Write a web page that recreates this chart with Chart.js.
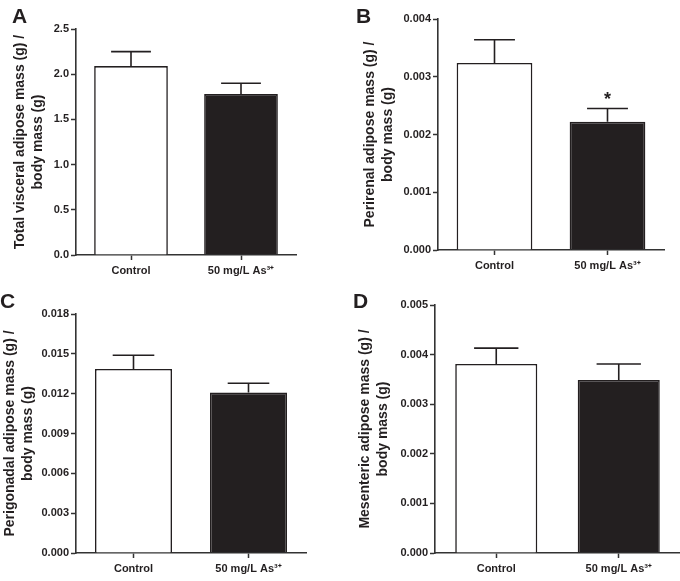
<!DOCTYPE html>
<html>
<head>
<meta charset="utf-8">
<script src="https://cdn.jsdelivr.net/npm/chart.js@4"></script>
<style>
  html, body { margin: 0; padding: 0; background: #fff; }
  #page { position: relative; width: 680px; height: 581px; overflow: hidden; }
  .panel { position: absolute; }
  .letter {
    position: absolute;
    font: bold 21px "Liberation Sans", Arial, sans-serif;
    color: #231f20;
    line-height: 1;
  }
</style>
</head>
<body>
<div id="page">
  <div class="panel" style="left:0;top:0"><canvas id="chartA" width="340" height="290"></canvas></div>
  <div class="panel" style="left:340px;top:0"><canvas id="chartB" width="340" height="290"></canvas></div>
  <div class="panel" style="left:0;top:290px"><canvas id="chartC" width="340" height="291"></canvas></div>
  <div class="panel" style="left:340px;top:290px"><canvas id="chartD" width="340" height="291"></canvas></div>
  <div class="letter" style="left:12px;top:5px">A</div>
  <div class="letter" style="left:356px;top:5px">B</div>
  <div class="letter" style="left:0;top:290px">C</div>
  <div class="letter" style="left:353px;top:290px">D</div>
</div>
<script>
(function () {
  "use strict";

  const categories = ["Control", "50 mg/L As³⁺"];

  const visceralMeans = [2.09, 1.78];
  const visceralErrors = [0.16, 0.12];

  const perirenalMeans = [0.00324, 0.00222];
  const perirenalErrors = [0.00040, 0.00023];
  const perirenalMarks = ["", "*"];

  const perigonadalMeans = [0.01386, 0.01208];
  const perigonadalErrors = [0.00103, 0.00071];

  const mesentericMeans = [0.00381, 0.00349];
  const mesentericErrors = [0.00032, 0.00032];

  const visceralTitle = ["Total visceral adipose mass (g) /", "body mass (g)"];
  const perirenalTitle = ["Perirenal adipose mass (g) /", "body mass (g)"];
  const perigonadalTitle = ["Perigonadal adipose mass (g) /", "body mass (g)"];
  const mesentericTitle = ["Mesenteric adipose mass (g) /", "body mass (g)"];

  const INK = "#231f20";
  const AXIS = "#333333";
  const FONT = "'Liberation Sans', Arial, sans-serif";

  // error bars (upper half only) plus significance marks
  const errorBarPlugin = {
    id: "errorBars",
    afterDatasetsDraw(chart) {
      const opts = chart.options.plugins.errorBars || {};
      const errors = opts.errors || [];
      const marks = opts.marks || [];
      const means = chart.data.datasets[0].data;
      const meta = chart.getDatasetMeta(0);
      const yScale = chart.scales.y;
      const ctx = chart.ctx;

      ctx.save();
      ctx.strokeStyle = INK;
      ctx.lineWidth = 1.6;
      meta.data.forEach((bar, i) => {
        const top = yScale.getPixelForValue(means[i] + (errors[i] || 0));
        const capHalf = bar.width * 0.27;
        ctx.beginPath();
        ctx.moveTo(bar.x, bar.y);
        ctx.lineTo(bar.x, top);
        ctx.moveTo(bar.x - capHalf, top);
        ctx.lineTo(bar.x + capHalf, top);
        ctx.stroke();

        if (marks[i]) {
          ctx.fillStyle = INK;
          ctx.font = "bold 18px " + FONT;
          ctx.textAlign = "center";
          ctx.textBaseline = "middle";
          ctx.fillText(marks[i], bar.x, top - 8);
        }
      });
      ctx.restore();
    }
  };

  function makePanel(id, cfg) {
    return new Chart(document.getElementById(id), {
      type: "bar",
      data: {
        labels: categories,
        datasets: [{
          data: cfg.means,
          backgroundColor: ["#ffffff", INK],
          borderColor: INK,
          borderWidth: 1.6,
          borderSkipped: "bottom",
          barPercentage: 0.67,
          categoryPercentage: 1
        }]
      },
      options: {
        responsive: false,
        animation: false,
        devicePixelRatio: 1,
        layout: { padding: { top: cfg.top, right: cfg.right, left: 0, bottom: 0 } },
        plugins: {
          legend: { display: false },
          tooltip: { enabled: false },
          errorBars: { errors: cfg.errors, marks: cfg.marks }
        },
        scales: {
          x: {
            type: "category",
            afterFit: s => { s.height = cfg.xHeight; },
            grid: {
              offset: false,
              drawOnChartArea: false,
              drawTicks: true,
              tickLength: 5,
              tickColor: AXIS,
              tickWidth: 1.5
            },
            border: { color: AXIS, width: 1.6 },
            ticks: {
              color: INK,
              padding: 4,
              font: { family: FONT, size: 11, weight: "bold" }
            }
          },
          y: {
            min: 0,
            max: cfg.max,
            afterFit: s => { s.width = cfg.yWidth; },
            grid: {
              drawOnChartArea: false,
              drawTicks: true,
              tickLength: 5,
              tickColor: AXIS,
              tickWidth: 1.5
            },
            border: { color: AXIS, width: 1.6 },
            ticks: {
              stepSize: cfg.step,
              color: INK,
              padding: 2,
              font: { family: FONT, size: 11, weight: "bold" },
              callback: v => Number(v).toFixed(cfg.decimals)
            },
            title: {
              display: true,
              text: cfg.title,
              color: INK,
              padding: { top: cfg.titlePad, bottom: 0 },
              font: { family: FONT, size: 14, weight: "bold", lineHeight: 1.3 }
            }
          }
        }
      },
      plugins: [errorBarPlugin]
    });
  }

  makePanel("chartA", {
    means: visceralMeans, errors: visceralErrors, marks: [],
    title: visceralTitle, max: 2.5, step: 0.5, decimals: 1,
    top: 29, right: 44, yWidth: 76, xHeight: 35, titlePad: 11
  });

  makePanel("chartB", {
    means: perirenalMeans, errors: perirenalErrors, marks: perirenalMarks,
    title: perirenalTitle, max: 0.004, step: 0.001, decimals: 3,
    top: 19, right: 16, yWidth: 98, xHeight: 40, titlePad: 21
  });

  makePanel("chartC", {
    means: perigonadalMeans, errors: perigonadalErrors, marks: [],
    title: perigonadalTitle, max: 0.018, step: 0.003, decimals: 3,
    top: 24, right: 34, yWidth: 76, xHeight: 28, titlePad: 1
  });

  makePanel("chartD", {
    means: mesentericMeans, errors: mesentericErrors, marks: [],
    title: mesentericTitle, max: 0.005, step: 0.001, decimals: 3,
    top: 15, right: 0, yWidth: 95, xHeight: 28, titlePad: 16
  });
})();
</script>
</body>
</html>
